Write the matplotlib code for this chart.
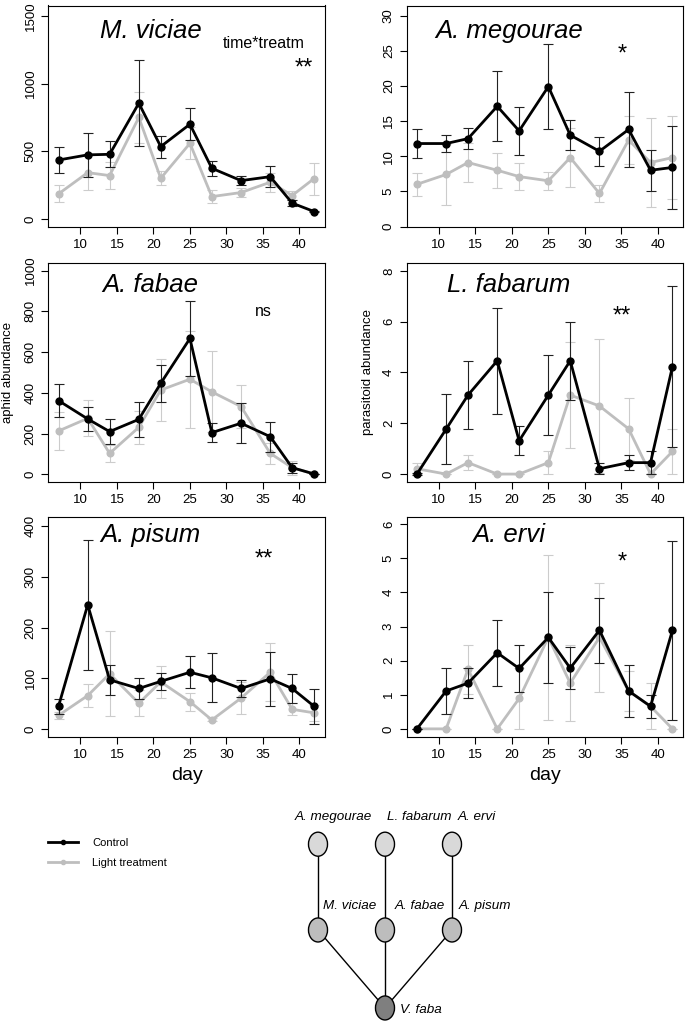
import numpy as np
import matplotlib.pyplot as plt
from matplotlib.patches import Ellipse
from matplotlib.lines import Line2D

plt.rcParams['font.family'] = ['Liberation Sans', 'DejaVu Sans']

days = [7, 11, 14, 18, 21, 25, 28, 32, 36, 39, 42]

viciae_ctrl = [436, 474, 478, 855, 535, 700, 375, 284, 313, 118, 56]
viciae_ctrl_se = [98, 160, 95, 316, 81, 117, 55, 35, 78, 20, 6]
viciae_light = [186, 343, 321, 750, 301, 559, 166, 196, 272, 174, 299]
viciae_light_se = [62, 130, 98, 186, 52, 117, 48, 36, 70, 30, 118]

megourae_ctrl = [11.8, 11.8, 12.5, 17.1, 13.6, 19.9, 13.0, 10.7, 13.8, 8.0, 8.4]
megourae_ctrl_se = [2.0, 1.15, 1.5, 5.0, 3.4, 6.1, 2.15, 2.1, 5.3, 2.95, 5.85]
megourae_light = [6.0, 7.4, 9.1, 8.0, 7.1, 6.5, 9.8, 4.7, 12.3, 9.1, 9.8]
megourae_light_se = [1.6, 4.4, 2.75, 2.5, 1.9, 1.3, 4.2, 1.15, 3.45, 6.35, 5.95]

fabae_ctrl = [362, 272, 210, 270, 447, 667, 205, 251, 185, 33, 2]
fabae_ctrl_se = [80, 60, 60, 86, 91, 182, 48, 98, 74, 25, 1]
fabae_light = [213, 275, 103, 231, 414, 467, 405, 333, 103, 33, 2]
fabae_light_se = [92, 88, 42, 82, 154, 238, 199, 106, 50, 35, 1]

fabarum_ctrl = [0, 1.77, 3.11, 4.46, 1.31, 3.11, 4.46, 0.21, 0.45, 0.45, 4.23]
fabarum_ctrl_se = [0.03, 1.37, 1.35, 2.08, 0.57, 1.57, 1.53, 0.22, 0.29, 0.44, 3.18]
fabarum_light = [0.21, 0, 0.45, 0, 0, 0.45, 3.11, 2.68, 1.78, 0, 0.89]
fabarum_light_se = [0.22, 0, 0.29, 0, 0, 0.44, 2.08, 2.65, 1.23, 0, 0.89]

pisum_ctrl = [45, 245, 97, 80, 94, 112, 101, 80, 99, 80, 45]
pisum_ctrl_se = [15, 128, 29, 21, 17, 32, 48, 16, 53, 28, 34]
pisum_light = [27, 66, 109, 51, 93, 54, 18, 61, 112, 39, 32]
pisum_light_se = [7, 22, 84, 26, 31, 18, 3, 31, 57, 12, 16]

ervi_ctrl = [0, 1.11, 1.34, 2.23, 1.77, 2.68, 1.78, 2.89, 1.11, 0.66, 2.89]
ervi_ctrl_se = [0, 0.66, 0.45, 0.97, 0.7, 1.33, 0.62, 0.95, 0.76, 0.34, 2.63]
ervi_light = [0, 0, 1.75, 0, 0.89, 2.68, 1.34, 2.68, 1.11, 0.66, 0]
ervi_light_se = [0, 0, 0.72, 0, 0.89, 2.41, 1.12, 1.59, 0.6, 0.67, 0]

titles = ['M. viciae', 'A. megourae', 'A. fabae', 'L. fabarum', 'A. pisum', 'A. ervi']
signif = ['**', '*', 'ns', '**', '**', '*']
yticks = [np.arange(0, 1501, 500), np.arange(0, 31, 5), np.arange(0, 1001, 200),
          np.arange(0, 9, 2), np.arange(0, 401, 100), np.arange(0, 7, 1)]
ylims = [(-62, 1576), (-0.14, 31.43), (-36, 1039), (-0.30, 8.32), (-15, 418), (-0.23, 6.21)]

series = [(viciae_ctrl, viciae_ctrl_se, viciae_light, viciae_light_se),
          (megourae_ctrl, megourae_ctrl_se, megourae_light, megourae_light_se),
          (fabae_ctrl, fabae_ctrl_se, fabae_light, fabae_light_se),
          (fabarum_ctrl, fabarum_ctrl_se, fabarum_light, fabarum_light_se),
          (pisum_ctrl, pisum_ctrl_se, pisum_light, pisum_light_se),
          (ervi_ctrl, ervi_ctrl_se, ervi_light, ervi_light_se)]

W, H = 685, 1022
fig = plt.figure(figsize=(W / 100, H / 100), dpi=100)

col_left = [48.3, 406.7]
col_width = 276.7
row_top = [5.5, 262.7, 517.0]
row_bot = [227.5, 481.7, 736.7]

GRAY = '#bebebe'

axes = []
for i in range(6):
    r, c = divmod(i, 2)
    ax = fig.add_axes([col_left[c] / W, 1 - row_bot[r] / H, col_width / W,
                       (row_bot[r] - row_top[r]) / H])
    axes.append(ax)
    ctrl, ctrl_se, light, light_se = series[i]
    ax.errorbar(days, light, yerr=light_se, color=GRAY, ecolor='#cccccc', lw=2,
                marker='o', ms=4.8, elinewidth=0.8, capsize=3.3, capthick=0.8, zorder=2)
    ax.errorbar(days, ctrl, yerr=ctrl_se, color='black', ecolor='#222222', lw=2,
                marker='o', ms=5, elinewidth=0.8, capsize=3.3, capthick=0.8, zorder=3)
    ax.set_xlim(5.6, 43.5)
    ax.set_ylim(*ylims[i])
    ax.set_xticks([10, 15, 20, 25, 30, 35, 40])
    ax.set_yticks(yticks[i])
    ax.tick_params(length=5, width=0.8, labelsize=9.5, pad=3.5)
    ax.tick_params(axis='y', labelrotation=90)
    for lab in ax.get_yticklabels():
        lab.set_va('center')
    for s in ax.spines.values():
        s.set_linewidth(0.8)
    tr = ax.get_xaxis_transform()
    ax.text(19.6, [0.885, 0.885, 0.898, 0.898, 0.918, 0.918][i], titles[i],
            transform=tr, ha='center', va='center', fontsize=18.5, style='italic')

tr = axes[0].get_xaxis_transform()
axes[0].text(35.1, 0.831, 'time*treatm', transform=tr, ha='center', va='center', fontsize=11.5)
star_x = [40.6, 35.1, 35.0, 35.1, 35.1, 35.1]
star_y = [0.714, 0.78, 0.775, 0.753, 0.808, 0.793]
for i in range(6):
    fs = 11.5 if signif[i] == 'ns' else 17
    axes[i].text(star_x[i], star_y[i], signif[i], transform=axes[i].get_xaxis_transform(),
                 ha='center', va='center', fontsize=fs)

axes[2].text(-0.146, 0.5, 'aphid abundance', transform=axes[2].transAxes,
             rotation=90, ha='center', va='center', fontsize=9.5)
axes[3].text(-0.139, 0.5, 'parasitoid abundance', transform=axes[3].transAxes,
             rotation=90, ha='center', va='center', fontsize=9.5)
for ax in axes[4:]:
    ax.text(0.5, -0.175, 'day', transform=ax.transAxes, ha='center', va='center', fontsize=14)

# legend
handles = [Line2D([], [], color='black', lw=2, marker='o', ms=3),
           Line2D([], [], color=GRAY, lw=2, marker='o', ms=3)]
fig.legend(handles, ['Control', 'Light treatment'], loc='center left',
           bbox_to_anchor=(48 / W, 1 - 853 / H), frameon=False, fontsize=8,
           handlelength=2.7, handletextpad=1.3, labelspacing=0.95,
           borderpad=0, borderaxespad=0)

# food web
web_names = ['A. megourae', 'L. fabarum', 'A. ervi', 'M. viciae', 'A. fabae', 'A. pisum', 'V. faba']
web_col = [0, 1, 2, 0, 1, 2, 1]
web_level = [2.1, 2.1, 2.1, 1, 1, 1, 0]
web_fill = ['#d9d9d9'] * 3 + ['#bdbdbd'] * 3 + ['#7f7f7f']
web_links = [(0, 3), (1, 4), (2, 5), (3, 6), (4, 6), (5, 6)]
label_x = [-0.343, 1.03, 2.09, 0.075, 1.15, 2.10, 1.22]
label_y = [2.45, 2.45, 2.45, 1.31, 1.31, 1.31, -0.03]

wax = fig.add_axes([250 / W, 0, 310 / W, 232 / H])
wax.set_xlim(-1.015, 3.612)
wax.set_ylim(-0.18, 2.795)
wax.axis('off')
for a, b in web_links:
    wax.plot([web_col[a], web_col[b]], [web_level[a], web_level[b]], color='black', lw=1, zorder=1)
for k in range(len(web_names)):
    wax.add_patch(Ellipse((web_col[k], web_level[k]), 0.284, 0.308, facecolor=web_fill[k],
                          edgecolor='black', lw=1, zorder=2))
    wax.text(label_x[k], label_y[k], web_names[k], ha='left', va='center',
             fontsize=9.7, style='italic')

fig.savefig('out.png', dpi=100)
